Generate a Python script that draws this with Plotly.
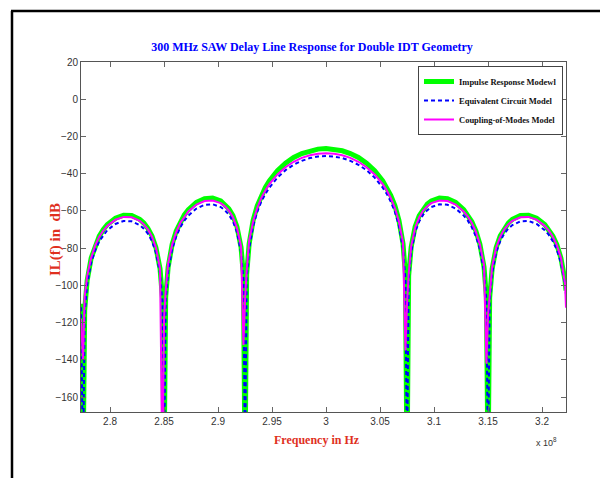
import plotly.graph_objects as go

# Frequency samples (units of 1e8 Hz)
freq = [2.7731, 2.775, 2.7765, 2.7788, 2.7825, 2.7863, 2.79, 2.7938, 2.7975, 2.805,
        2.8125, 2.82, 2.8275, 2.8313, 2.835, 2.8388, 2.8425, 2.8463, 2.8485, 2.85,
        2.8515, 2.8538, 2.8575, 2.8613, 2.865, 2.8688, 2.8725, 2.88, 2.8875, 2.895,
        2.9025, 2.9063, 2.91, 2.9138, 2.9175, 2.9213, 2.9235, 2.925, 2.9265, 2.9288,
        2.9325, 2.9363, 2.94, 2.9438, 2.9475, 2.955, 2.9625, 2.97, 2.9775, 2.985,
        2.9925, 3.0, 3.0075, 3.015, 3.0225, 3.03, 3.0375, 3.045, 3.0525, 3.0563,
        3.06, 3.0638, 3.0675, 3.0713, 3.0735, 3.075, 3.0765, 3.0788, 3.0825, 3.0863,
        3.09, 3.0938, 3.0975, 3.105, 3.1125, 3.12, 3.1275, 3.1313, 3.135, 3.1388,
        3.1425, 3.1463, 3.1485, 3.15, 3.1515, 3.1538, 3.1575, 3.1613, 3.165, 3.1688,
        3.1725, 3.18, 3.1875, 3.195, 3.2025, 3.2063, 3.21, 3.2138, 3.2175, 3.2213,
        3.2222]

impulse_db = [-109.8, -200, -113.4, -97.4, -85.3, -78.3, -73.5, -70.0, -67.3, -63.9,
              -62.3, -62.5, -64.5, -66.5, -69.3, -73.4, -79.7, -91.1, -106.7, -200,
              -106.3, -90.2, -77.9, -70.8, -65.8, -62.1, -59.3, -55.4, -53.4, -53.1,
              -54.6, -56.3, -58.8, -62.5, -68.4, -79.5, -94.8, -200, -94.1, -77.7,
              -65.0, -57.3, -51.7, -47.4, -43.9, -38.4, -34.3, -31.3, -29.2, -27.7,
              -26.8, -26.5, -26.8, -27.7, -29.2, -31.3, -34.3, -38.4, -43.9, -47.4,
              -51.7, -57.3, -65.0, -77.7, -94.1, -200, -94.8, -79.5, -68.4, -62.5,
              -58.8, -56.3, -54.6, -53.1, -53.4, -55.4, -59.3, -62.1, -65.8, -70.8,
              -77.9, -90.2, -106.3, -200, -106.7, -91.1, -79.7, -73.4, -69.3, -66.5,
              -64.5, -62.5, -62.3, -63.9, -67.3, -70.0, -73.5, -78.3, -85.3, -97.4,
              -102.7]

equiv_db = [-111.7, -200, -115.2, -99.6, -87.8, -81.0, -76.3, -72.9, -70.3, -67.0,
            -65.4, -65.6, -67.6, -69.5, -72.2, -76.2, -82.4, -93.5, -108.7, -200,
            -108.3, -92.6, -80.6, -73.7, -68.8, -65.2, -62.5, -58.7, -56.7, -56.4,
            -57.9, -59.6, -62.0, -65.6, -71.4, -82.2, -97.1, -200, -96.4, -80.4,
            -68.0, -60.5, -55.1, -50.9, -47.5, -42.1, -38.1, -35.2, -33.1, -31.6,
            -30.8, -30.5, -30.8, -31.6, -33.1, -35.2, -38.1, -42.1, -47.5, -50.9,
            -55.1, -60.5, -68.0, -80.4, -96.4, -200, -97.1, -82.2, -71.4, -65.6,
            -62.0, -59.6, -57.9, -56.4, -56.7, -58.7, -62.5, -65.2, -68.8, -73.7,
            -80.6, -92.6, -108.3, -200, -108.7, -93.5, -82.4, -76.2, -72.2, -69.5,
            -67.6, -65.6, -65.4, -67.0, -70.3, -72.9, -76.3, -81.0, -87.8, -99.6,
            -104.8]

com_db = [-118.0, -140.0, -106.0, -95.0, -85.2, -78.5, -73.9, -70.5, -68.0, -64.7,
          -63.2, -63.4, -65.3, -67.2, -69.9, -73.8, -79.8, -91.0, -200, -118.0,
          -103.0, -88.0, -78.1, -71.3, -66.5, -63.0, -60.3, -56.6, -54.7, -54.4,
          -55.8, -57.5, -59.8, -63.4, -69.0, -79.0, -132.0, -108.0, -92.0, -76.0,
          -65.7, -58.4, -53.1, -49.0, -45.6, -40.4, -36.5, -33.6, -31.5, -30.1,
          -29.3, -29.0, -29.3, -30.1, -31.5, -33.6, -36.5, -40.4, -45.6, -49.0,
          -53.1, -58.4, -65.7, -77.0, -135.0, -110.0, -94.0, -79.0, -69.0, -63.4,
          -59.8, -57.5, -55.8, -54.4, -54.7, -56.6, -60.3, -63.0, -66.5, -71.3,
          -78.1, -89.0, -142.0, -116.0, -104.0, -90.0, -79.8, -73.8, -69.9, -67.2,
          -65.3, -63.4, -63.2, -64.7, -68.0, -70.5, -73.9, -78.5, -85.2, -99.0,
          -112.0]

x_tickvals = [2.8, 2.85, 2.9, 2.95, 3.0, 3.05, 3.1, 3.15, 3.2]
x_ticktext = ["2.8", "2.85", "2.9", "2.95", "3", "3.05", "3.1", "3.15", "3.2"]
y_tickvals = [20, 0, -20, -40, -60, -80, -100, -120, -140, -160]

series_names = ["Impulse Response Modewl", "Equivalent Circuit Model", "Coupling-of-Modes Model"]

fig = go.Figure()
fig.add_trace(go.Scatter(x=freq, y=impulse_db, mode="lines", name=series_names[0],
                         line=dict(color="#00ff00", width=5)))
fig.add_trace(go.Scatter(x=freq, y=equiv_db, mode="lines", name=series_names[1],
                         line=dict(color="#0000ff", width=2, dash="4px,3px")))
fig.add_trace(go.Scatter(x=freq, y=com_db, mode="lines", name=series_names[2],
                         line=dict(color="#ff00ff", width=2)))

# The page body has an 8px margin; layout numbers below are window pixels.
OFF = 8
W, H = 600, 470
PL, PR, PT, PB = 81, 566, 62, 412          # plot box in window pixels
L, R, T, B = PL - OFF, W - (PR - OFF), PT - OFF, H - (PB - OFF)
pw, ph = W - L - R, H - T - B

def px_x(px):
    return (px - OFF - L) / pw

def px_y(py):
    return (H - B - (py - OFF)) / ph

axis_common = dict(showline=True, linecolor="#555555", linewidth=1, mirror="ticks",
                   ticks="inside", ticklen=5, tickcolor="#666666", tickwidth=1,
                   showgrid=False, zeroline=False,
                   tickfont=dict(family="Liberation Sans Narrow, Liberation Sans, Arial", size=10, color="#333333"))

serif = "Liberation Serif, Times New Roman, serif"
fig.update_layout(
    width=W, height=H,
    margin=dict(l=L, r=R, t=T, b=B, pad=0),
    paper_bgcolor="white", plot_bgcolor="white",
    title=dict(text="300 MHz SAW Delay Line Response for Double IDT Geometry",
               x=px_x(312), xref="paper", xanchor="center",
               y=1 - (47 - OFF) / H, yref="container", yanchor="middle",
               font=dict(family=serif, size=12, color="#0000ff", weight="bold")),
    xaxis=dict(range=[2.7731, 3.2222], tickvals=x_tickvals, ticktext=x_ticktext, **axis_common),
    yaxis=dict(range=[-168, 20], tickvals=y_tickvals, **axis_common),
    legend=dict(x=px_x(563), y=px_y(66), xanchor="right", yanchor="top",
                bgcolor="white", bordercolor="#444444", borderwidth=1,
                font=dict(family=serif, size=8.5, color="#111111", weight="bold"),
                tracegroupgap=0, itemwidth=30),
    showlegend=True,
)

red = "#e0301e"
fig.add_annotation(text="Frequency in Hz", x=px_x(317), y=px_y(440), xref="paper", yref="paper",
                   showarrow=False, xanchor="center", yanchor="middle",
                   font=dict(family=serif, size=12, color=red, weight="bold"))
fig.add_annotation(text="IL(f) in  dB", x=px_x(55), y=px_y(240), xref="paper", yref="paper",
                   showarrow=False, textangle=-90, xanchor="center", yanchor="middle",
                   font=dict(family=serif, size=15, color=red, weight="bold"))
fig.add_annotation(text="x 10<sup>8</sup>", x=px_x(546), y=px_y(442), xref="paper", yref="paper",
                   showarrow=False, xanchor="center", yanchor="middle",
                   font=dict(family="Liberation Sans Narrow, Liberation Sans, Arial", size=9, color="#333333"))

# outer figure frame (left and top edges)
fig.add_shape(type="line", xref="paper", yref="paper",
              x0=px_x(12), x1=px_x(12), y0=px_y(490), y1=px_y(11),
              line=dict(color="black", width=2.5))
fig.add_shape(type="line", xref="paper", yref="paper",
              x0=px_x(11), x1=px_x(620), y0=px_y(11), y1=px_y(11),
              line=dict(color="black", width=2.5))

fig.write_html("out.html")
